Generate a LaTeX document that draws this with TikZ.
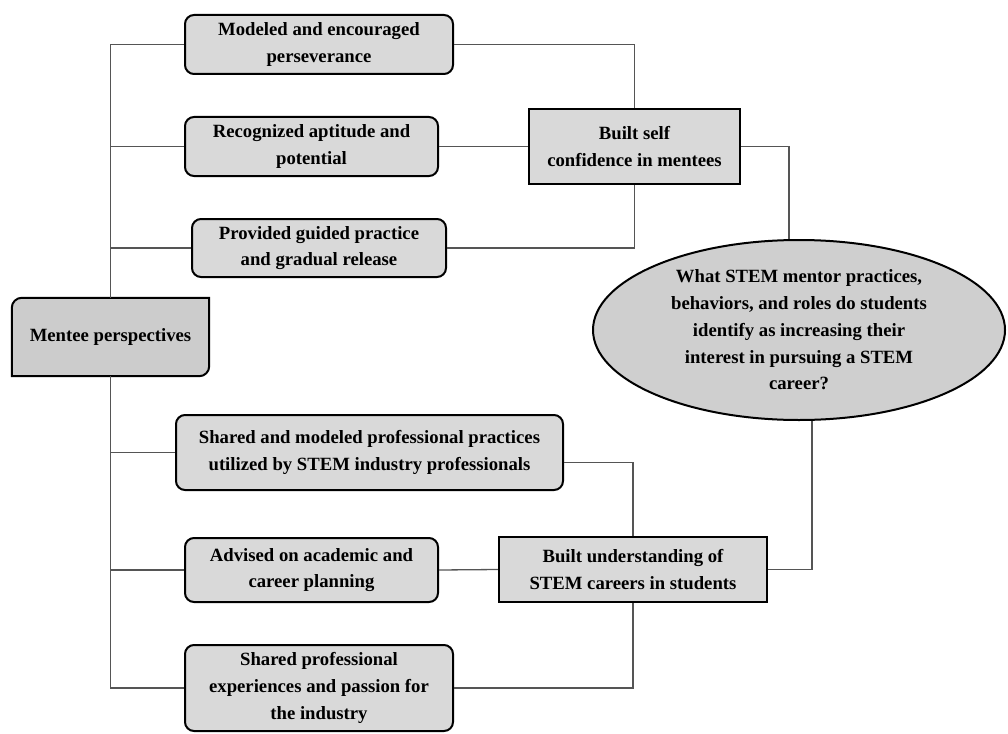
\documentclass[tikz,border=0pt]{standalone}
\usepackage{fontspec}
\setmainfont{Liberation Serif}
\usetikzlibrary{positioning}
\usetikzlibrary{shapes.geometric}
\usetikzlibrary{backgrounds}
\definecolor{leafgray}{RGB}{217,217,217}
\definecolor{rootgray}{RGB}{204,204,204}
\definecolor{qgray}{RGB}{207,207,207}
\definecolor{linkgray}{RGB}{85,85,85}

\tikzset{
  txt/.style={align=center, inner sep=0, font=\fontsize{18.7}{26.8}\selectfont\bfseries},
  leaf/.style={txt, draw, line width=2, rounded corners=9, fill=leafgray},
  theme/.style={txt, draw, line width=2.4, fill=leafgray},
  link/.style={draw=linkgray, line width=1.3},
}

\begin{document}
\begin{tikzpicture}[x=1pt, y=-1pt]
        \useasboundingbox (0,0) rectangle (1008,733);
        % nodes %
        \node[txt, minimum width=197, minimum height=78] (mentee) at (110.5,337) {Mentee perspectives};
        \node[leaf, minimum width=268, minimum height=59] (perse) at (319,44.5) {Modeled and encouraged\\ perseverance};
        \node[leaf, minimum width=253, minimum height=59] (aptit) at (311.5,146.5) {Recognized aptitude and\\ potential};
        \node[leaf, minimum width=254, minimum height=58] (guided) at (319,248) {Provided guided practice\\ and gradual release};
        \node[leaf, minimum width=387, minimum height=75] (practs) at (369.5,452.5) {Shared and modeled professional practices\\ utilized by STEM industry professionals};
        \node[leaf, minimum width=253, minimum height=64] (advise) at (311.5,570) {Advised on academic and\\ career planning};
        \node[leaf, minimum width=268, minimum height=86] (passion) at (319,688) {Shared professional\\ experiences and passion for\\ the industry};
        \node[theme, minimum width=211, minimum height=75] (selfc) at (634.5,146.5) {Built self\\ confidence in mentees};
        \node[theme, minimum width=268, minimum height=65] (underst) at (633,569.5) {Built understanding of\\ STEM careers in students};
        \node[txt, ellipse, draw, line width=2, fill=qgray, minimum width=412, minimum height=180] (quest) at (799,330) {What STEM mentor practices,\\ behaviors, and roles do students\\ identify as increasing their\\ interest in pursuing a STEM\\ career?};
        \begin{pgfonlayer}{background}
          % frame of the root box: two corners round, two square
          \filldraw[fill=rootgray, line width=2] (mentee.south west) -- ([yshift=-10pt]mentee.north west) arc[start angle=180, end angle=90, radius=10pt] -- (mentee.north east) -- ([yshift=10pt]mentee.south east) arc[start angle=0, end angle=-90, radius=10pt] -- cycle;
        \end{pgfonlayer}
        % edges %
        \draw[link] (mentee.north) |- (perse.west);
        \draw[link] (mentee.north) |- (aptit.west);
        \draw[link] (mentee.north) |- (guided.west);
        \draw[link] (mentee.south) |- (practs.west);
        \draw[link] (mentee.south) |- (advise.west);
        \draw[link] (mentee.south) |- (passion.west);
        \draw[link] (perse.east) -| (selfc.north);
        \draw[link] (aptit.east) -- (selfc.west);
        \draw[link] (guided.east) -| (selfc.south);
        \draw[link] ([yshift=-10]practs.east) -| (underst.north);
        \draw[link] (advise.east) -- (underst.west);
        \draw[link] (passion.east) -| (underst.south);
        \draw[link] (selfc.east) -| ([xshift=-10]quest.north);
        \draw[link] (underst.east) -| ([xshift=13]quest.south);
\end{tikzpicture}
\end{document}
